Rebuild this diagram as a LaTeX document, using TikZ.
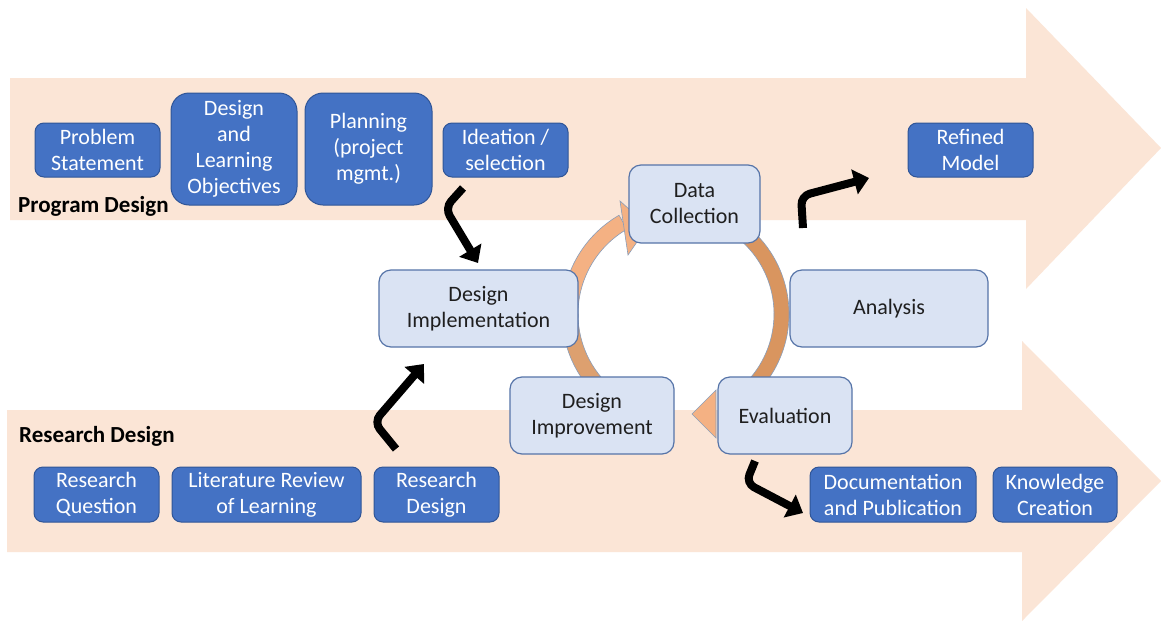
\documentclass[tikz,border=0pt]{standalone}
\usepackage{fontspec}
\setmainfont{Carlito}
\usetikzlibrary{arrows.meta,calc}
\definecolor{peach}{HTML}{FBE5D6}
\definecolor{boxblue}{HTML}{4472C4}
\definecolor{boxedge}{HTML}{2F5597}
\definecolor{lightfill}{HTML}{DAE3F3}
\definecolor{lightedge}{HTML}{5674A8}
\definecolor{orlight}{HTML}{F4B183}
\definecolor{ordark}{HTML}{D9955F}
\definecolor{ormid}{HTML}{DDA06F}
\definecolor{oredge}{HTML}{8A9DB8}
\definecolor{txt}{HTML}{1F1F1F}
\newcommand{\fsz}{\fontsize{22}{26}\selectfont}
\newcommand{\lsz}{\fontsize{23}{27}\selectfont}
\tikzset{
  bbox/.style={rounded corners=9pt, fill=boxblue, draw=boxedge, line width=1pt,
    text=white, align=center, font=\fsz, inner sep=0pt},
  bigbbox/.style={bbox, rounded corners=18pt},
  lbox/.style={rounded corners=12pt, fill=lightfill, draw=lightedge, line width=1.2pt,
    text=txt, align=center, font=\fsz, inner sep=0pt},
  lbl/.style={anchor=west, inner sep=0pt, font=\lsz\bfseries, text=black},
  blk/.style={draw=black, line width=8pt, rounded corners=9pt,
    -{Triangle[length=15pt,width=25pt]}},
  ring/.style={draw=oredge, line width=0.6pt}
}
\begin{document}
\begin{tikzpicture}[x=1pt,y=1pt]
\useasboundingbox (0,0) rectangle (1161,-621);
\fill[white] (0,0) rectangle (1161,-621);
% background arrows
\fill[peach] (10,-78) -- (1026,-78) -- (1026,-8) -- (1161,-148) -- (1026,-289) -- (1026,-220) -- (10,-220) -- cycle;
\fill[peach] (7,-410) -- (1022,-410) -- (1022,-341) -- (1161,-481) -- (1022,-621) -- (1022,-552) -- (7,-552) -- cycle;
% cycle ring
\coordinate (C) at (676,-314);
\filldraw[ring, fill=ormid] ($(C)+(235:114)$) arc[start angle=235,end angle=180,radius=114]
  -- ($(C)+(180:98)$) arc[start angle=180,end angle=235,radius=98] -- cycle;
\filldraw[ring, fill=orlight] ($(C)+(182:114)$) arc[start angle=182,end angle=120,radius=114]
  -- ($(C)+(120:98)$) arc[start angle=120,end angle=182,radius=98] -- cycle;
\filldraw[ring, fill=orlight] (620,-201) -- (648,-226) -- (628,-255) -- cycle;
\filldraw[ring, fill=ordark] ($(C)+(62:113)$) arc[start angle=62,end angle=-55,radius=113]
  -- ($(C)+(-55:98)$) arc[start angle=-55,end angle=62,radius=98] -- cycle;
\filldraw[ring, fill=orlight] (716,-390) -- (692,-414) -- (716,-438) -- cycle;
% program design boxes
\node[bbox, minimum width=125pt, minimum height=54pt] (ps) at (97.5,-150) {Problem\\Statement};
\node[bigbbox, minimum width=126pt, minimum height=112pt] (dlo) at (234,-149) {Design\\and\\Learning\\Objectives};
\node[bigbbox, minimum width=127pt, minimum height=112pt] (plan) at (368.5,-149) {Planning\\(project\\mgmt.)};
\node[bbox, minimum width=125pt, minimum height=54pt] (idea) at (505.5,-150) {Ideation /\\selection};
\node[bbox, minimum width=125pt, minimum height=54pt] (refined) at (970.5,-150) {Refined\\Model};
% cycle boxes
\node[lbox, minimum width=131pt, minimum height=78pt] (dc) at (694.5,-204) {Data\\Collection};
\node[lbox, minimum width=199pt, minimum height=77pt] (dimpl) at (478.5,-308.5) {Design\\Implementation};
\node[lbox, minimum width=198pt, minimum height=77pt] (anal) at (889,-308.5) {Analysis};
\node[lbox, minimum width=164pt, minimum height=77pt] (dimpr) at (592,-415.5) {Design\\Improvement};
\node[lbox, minimum width=134pt, minimum height=77pt] (eval) at (785,-415.5) {Evaluation};
% research design boxes
\node[bbox, minimum width=125pt, minimum height=55pt] (rq) at (96.5,-494.5) {Research\\Question};
\node[bbox, minimum width=189pt, minimum height=55pt] (lit) at (266.5,-494.5) {Literature Review\\of Learning};
\node[bbox, minimum width=125pt, minimum height=55pt] (rd) at (436.5,-494.5) {Research\\Design};
\node[bbox, minimum width=166pt, minimum height=55pt] (doc) at (893,-494.5) {Documentation\\and Publication};
\node[bbox, minimum width=124pt, minimum height=55pt] (kc) at (1055,-494.5) {Knowledge\\Creation};
% labels
\node[lbl] (pd) at (18,-206) {Program Design};
\node[lbl] (rdl) at (19,-436) {Research Design};
% black bent arrows
\coordinate (a1s) at (463,-188); \coordinate (a1b) at (445,-208); \coordinate (a1e) at (478,-263);
\draw[blk] (a1s) -- (a1b) -- (a1e);
\coordinate (a2s) at (396,-449); \coordinate (a2b) at (374,-422); \coordinate (a2e) at (424,-364);
\draw[blk] (a2s) -- (a2b) -- (a2e);
\coordinate (a3s) at (803,-228); \coordinate (a3b) at (801,-196); \coordinate (a3e) at (869,-178);
\draw[blk] (a3s) -- (a3b) -- (a3e);
\coordinate (a4s) at (755,-461); \coordinate (a4b) at (746,-483); \coordinate (a4e) at (803,-513);
\draw[blk] (a4s) -- (a4b) -- (a4e);
\end{tikzpicture}
\end{document}
